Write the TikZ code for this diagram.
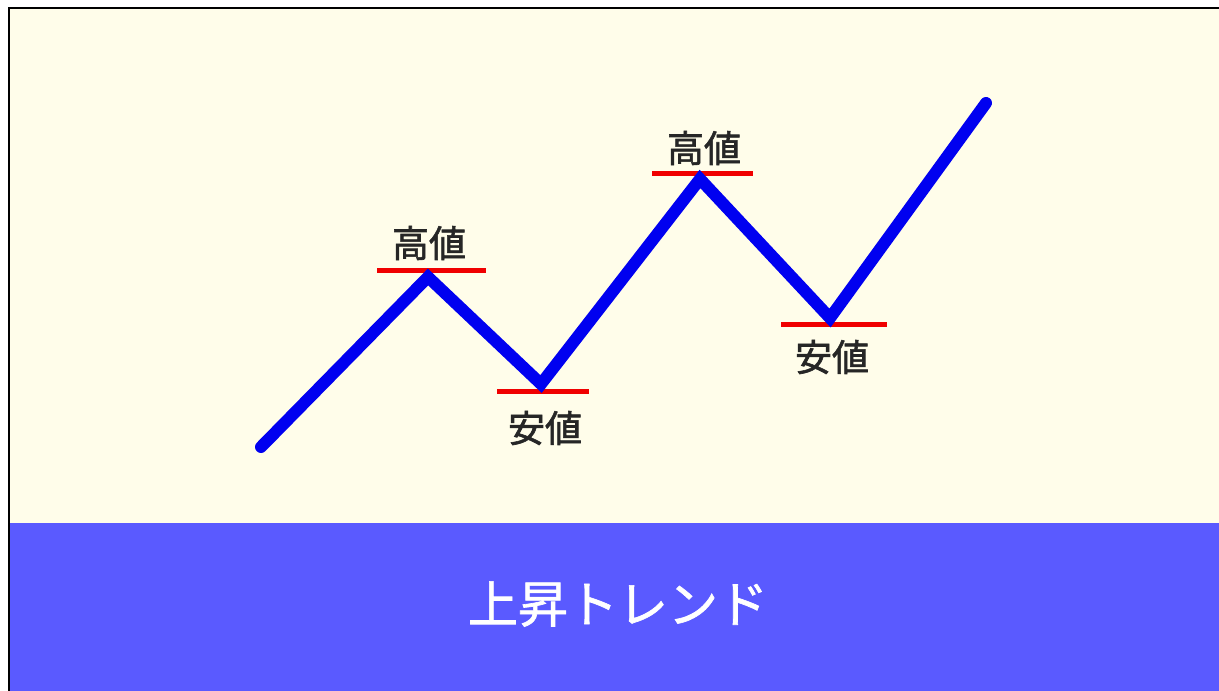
\documentclass[tikz,border=0pt]{standalone}
\usepackage{fontspec}
\newfontfamily\cjk{Noto Sans CJK JP}[FakeBold=1.6]
\newfontfamily\cjkt{Noto Sans CJK JP}[FakeBold=1.3]
\definecolor{cream}{HTML}{FFFDEA}
\definecolor{band}{HTML}{5A5AFF}
\definecolor{trend}{HTML}{0000F0}
\definecolor{mark}{HTML}{F00000}
\tikzset{
  trendline/.style={draw=trend, line width=12pt, line cap=round, line join=miter},
  level/.style={draw=mark, line width=5pt},
  lbl/.style={font=\cjk\fontsize{37}{37}\selectfont, text=black!85, inner sep=0pt},
  title/.style={font=\cjkt\fontsize{50}{50}\selectfont, text=white, inner sep=0pt}
}
\begin{document}
\begin{tikzpicture}[x=1pt,y=-1pt]
\useasboundingbox (0,0) rectangle (1219,691);
\fill[white] (0,0) rectangle (1219,691);
\fill[cream] (9,8) rectangle (1219,691);
\fill[band] (9,523) rectangle (1219,691);
\draw[black, line width=2.5pt] (9,691) -- (9,8) -- (1219,8);
% zigzag points
\coordinate (p0) at (261,447);
\coordinate (p1) at (428,277);
\coordinate (p2) at (541,384);
\coordinate (p3) at (700,179);
\coordinate (p4) at (830,318);
\coordinate (p5) at (986,103);
% level bars
\coordinate (h1a) at (377,270); \coordinate (h1b) at (486,270);
\coordinate (l1a) at (497,391); \coordinate (l1b) at (589,391);
\coordinate (h2a) at (652,173); \coordinate (h2b) at (753,173);
\coordinate (l2a) at (781,324); \coordinate (l2b) at (887,324);
\draw[level] (h1a) -- (h1b);
\draw[level] (l1a) -- (l1b);
\draw[level] (h2a) -- (h2b);
\draw[level] (l2a) -- (l2b);
\draw[trendline] (p0) -- (p1) -- (p2) -- (p3) -- (p4) -- (p5);
\node[lbl] (t1) at (429,243) {高値};
\node[lbl] (b1) at (545,428) {安値};
\node[lbl] (t2) at (704,148) {高値};
\node[lbl] (b2) at (832,357) {安値};
\node[title] (ttl) at (618,604) {上昇トレンド};
\end{tikzpicture}
\end{document}
